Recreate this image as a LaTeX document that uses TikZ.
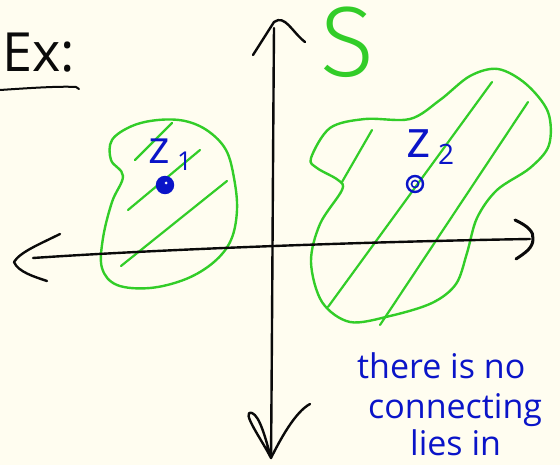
\documentclass[tikz,border=0pt]{standalone}
\usepackage{fontspec}
\setmainfont{Open Sans}
\newfontfamily\thinfont{Fira Sans Light}
\definecolor{bgc}{RGB}{255,253,240}
\definecolor{ink}{RGB}{10,10,10}
\definecolor{grn}{RGB}{50,205,40}
\definecolor{blu}{RGB}{10,20,200}
\begin{document}
\begin{tikzpicture}[x=1pt,y=-1pt,
  axis/.style={draw=ink,line width=2.4pt,line cap=round,line join=round},
  region/.style={draw=grn,line width=2.4pt,line cap=round,line join=round},
  hatch/.style={draw=grn,line width=2.2pt,line cap=round},
  pt/.style={circle,draw=blu,line width=2.4pt,inner sep=0pt,minimum size=16pt},
  zlbl/.style={text=blu,inner sep=0pt,anchor=base west},
  note/.style={text=blu,inner sep=0pt,anchor=base west,font=\fontsize{34}{36}\selectfont}]
\fill[bgc] (0,0) rectangle (560,465);
\useasboundingbox (0,0) rectangle (560,465);

% heading
\node[text=ink,inner sep=0pt,anchor=base west,font=\fontsize{54}{54}\selectfont] (ex) at (2,72) {Ex:};
\coordinate (u1) at (0,90);
\coordinate (u2) at (79,89);
\draw[axis,line width=2pt] (u1) .. controls (30,88) and (60,86) .. (76,87) -- (u2);

% S label
\node[text=grn,inner sep=0pt,font=\thinfont\fontsize{100}{100}\selectfont] (S) at (347,42) {S};

% regions
\draw[region] plot[smooth cycle,tension=0.6] coordinates {
 (112,140) (132,126) (158,120) (185,121) (208,131) (226,150) (234,178) (237,210)
 (231,240) (214,262) (186,279) (150,288) (117,285) (102,268) (103,238) (112,202)
 (123,176) (111,160)};
\draw[region] plot[smooth cycle,tension=0.55] coordinates {
 (311,158) (330,128) (365,119) (410,119) (440,100) (470,76) (498,69) (526,84)
 (548,112) (549,145) (530,168) (497,190) (477,218) (467,253) (456,284) (432,303)
 (390,316) (350,322) (322,302) (311,262) (320,224) (342,190) (338,180) (317,168)};

% hatching
\coordinate (h1a) at (135,160); \coordinate (h1b) at (172,123);
\coordinate (h2a) at (128,210); \coordinate (h2b) at (200,150);
\coordinate (h3a) at (121,266); \coordinate (h3b) at (227,181);
\coordinate (h4a) at (372,130); \coordinate (h4b) at (342,182);
\coordinate (h5a) at (492,82);  \coordinate (h5b) at (328,307);
\coordinate (h6a) at (528,102); \coordinate (h6b) at (380,325);
\draw[hatch] (h1a) -- (h1b);
\draw[hatch] (h2a) -- (h2b);
\draw[hatch] (h3a) -- (h3b);
\draw[hatch] (h4a) -- (h4b);
\draw[hatch] (h5a) -- (h5b);
\draw[hatch] (h6a) -- (h6b);

% axes
\coordinate (yt) at (274,22);
\coordinate (yb) at (271,458);
\coordinate (xl) at (14,262);
\coordinate (xr) at (533,239);
\draw[axis] (274,28) .. controls (273,150) and (272,350) .. (yb);
\draw[axis] (33,258) .. controls (150,250) and (350,242) .. (530,239);
% arrowheads
\draw[axis] (253,55) -- (yt) .. controls (285,14) and (292,32) .. (305,42);
\draw[axis] (yb) .. controls (262,440) and (240,410) .. (252,413) .. controls (260,416) and (266,440) .. (yb)
            .. controls (280,440) and (295,412) .. (310,404);
\draw[axis] (60,234) .. controls (40,244) and (20,252) .. (xl) .. controls (18,272) and (35,277) .. (47,281);
\draw[axis,line width=3pt] (515,220) .. controls (528,226) and (534,232) .. (xr) .. controls (533,248) and (525,253) .. (516,259);

% points
\node[pt,fill=blu] (z1) at (165,185) {};
\fill[white] (166,183) circle (1.5);
\node[pt,fill=none] (z2) at (415,184) {};
\node[circle,draw=blu,line width=1.6pt,inner sep=0pt,minimum size=7pt] (z2in) at (415,184) {};

% point labels
\node[zlbl,font=\fontsize{46}{46}\selectfont] (l1) at (148,164) {z};
\node[zlbl,font=\fontsize{26}{26}\selectfont] (l1s) at (177,171) {1};
\node[zlbl,font=\fontsize{52}{52}\selectfont] (l2) at (406,158) {z};
\node[zlbl,font=\fontsize{28}{28}\selectfont] (l2s) at (438,165) {2};

% note
\node[note] (n1) at (357,378) {there is no};
\node[note] (n2) at (368,418) {connecting};
\node[note] (n3) at (410,455) {lies in};
\end{tikzpicture}
\end{document}
